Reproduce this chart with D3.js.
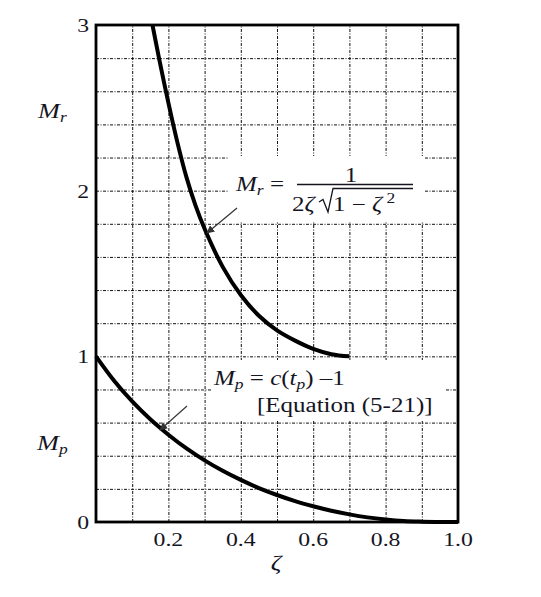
<!DOCTYPE html>
<html>
<head>
<meta charset="utf-8">
<script src="https://cdn.jsdelivr.net/npm/d3@7"></script>
<style>
  body { margin: 0; background: #fff; }
  text { font-family: "Liberation Serif", "Times New Roman", serif; fill: #15151f; }
  .grid line { stroke: #111; stroke-width: 1; stroke-dasharray: 3,1.5,1,1.5; }
  .grid path { display: none; }
</style>
</head>
<body>
<div class="chart"></div>
<script>
// values
var zetaMr = [0.156, 0.175, 0.2, 0.225, 0.25, 0.275, 0.3, 0.35, 0.4, 0.45, 0.5, 0.55, 0.6, 0.65, 0.7];
var mrValues = [3.0, 2.79, 2.53, 2.29, 2.08, 1.91, 1.77, 1.54, 1.37, 1.245, 1.157, 1.095, 1.045, 1.013, 1.0];

var zetaMp = [0, 0.05, 0.1, 0.15, 0.2, 0.25, 0.3, 0.35, 0.4, 0.45, 0.5, 0.55, 0.6, 0.65, 0.7, 0.75, 0.8, 0.85, 0.9, 0.95, 1.0];
var mpValues = [1.0, 0.853, 0.728, 0.62, 0.527, 0.444, 0.372, 0.309, 0.254, 0.205, 0.163, 0.126, 0.095, 0.068, 0.046, 0.028, 0.015, 0.006, 0.002, 0.0, 0.0];

var xTicks = [0.2, 0.4, 0.6, 0.8, 1.0];
var xTickLabels = ['0.2', '0.4', '0.6', '0.8', '1.0'];
var yTicks = [0, 1, 2, 3];
var yTickLabels = ['0', '1', '2', '3'];
var xGrid = [0.1, 0.2, 0.3, 0.4, 0.5, 0.6, 0.7, 0.8, 0.9];
var yGrid = [0.2, 0.4, 0.6, 0.8, 1.0, 1.2, 1.4, 1.6, 1.8, 2.0, 2.2, 2.4, 2.6, 2.8];

var W = 541, H = 597;
var margin = { top: 25, right: 83, bottom: 75, left: 96 };
var width = W - margin.left - margin.right;
var height = H - margin.top - margin.bottom;
var sx = 1.25; // the original type is drawn a little wide

var svg = d3.select('.chart')
  .append('svg')
    .attr('width', W)
    .attr('height', H);

var x = d3.scaleLinear().domain([0, 1]).range([margin.left, margin.left + width]);
var y = d3.scaleLinear().domain([0, 3]).range([margin.top + height, margin.top]);

svg.append('defs').append('marker')
  .attr('id', 'head')
  .attr('viewBox', '0 0 10 10')
  .attr('refX', 9).attr('refY', 5)
  .attr('markerWidth', 8).attr('markerHeight', 8)
  .attr('markerUnits', 'userSpaceOnUse')
  .attr('orient', 'auto')
  .append('path')
    .attr('d', 'M0,0 L10,5 L0,10 z')
    .attr('fill', '#333');

// dotted grid
svg.append('g')
  .attr('class', 'grid')
  .attr('transform', `translate(0, ${margin.top + height})`)
  .call(d3.axisBottom(x).tickValues(xGrid).tickSize(-height).tickFormat(''));

svg.append('g')
  .attr('class', 'grid')
  .attr('transform', `translate(${margin.left}, 0)`)
  .call(d3.axisLeft(y).tickValues(yGrid).tickSize(-width).tickFormat(''));

// white patches behind the formulas
svg.append('rect').attr('x', 229).attr('y', 156).attr('width', 195).attr('height', 65).attr('fill', '#fff');
svg.append('rect').attr('x', 211).attr('y', 360).attr('width', 235).attr('height', 61).attr('fill', '#fff');

// frame
svg.append('rect')
  .attr('x', margin.left).attr('y', margin.top)
  .attr('width', width).attr('height', height)
  .attr('fill', 'none')
  .attr('stroke', '#000')
  .attr('stroke-width', 2.8);

var line = d3.line()
  .x(d => x(d[0]))
  .y(d => y(d[1]))
  .curve(d3.curveCatmullRom.alpha(0.5));

svg.append('path')
  .attr('d', line(d3.zip(zetaMr, mrValues)))
  .attr('fill', 'none').attr('stroke', '#000').attr('stroke-width', 4);

svg.append('path')
  .attr('d', line(d3.zip(zetaMp, mpValues)))
  .attr('fill', 'none').attr('stroke', '#000').attr('stroke-width', 4);

// small helper for stretched text
function label(px, py, size, anchor) {
  return svg.append('text')
    .attr('transform', `translate(${px}, ${py}) scale(${sx}, 1)`)
    .attr('font-size', size)
    .attr('text-anchor', anchor || 'start');
}

// tick labels
xTicks.forEach(function (t, i) {
  label(x(t), 546, 19, 'middle').text(xTickLabels[i]);
});
yTicks.forEach(function (t, i) {
  label(89, y(t) + 7, 19, 'end').text(yTickLabels[i]);
});

label(276, 570, 21, 'middle').attr('font-style', 'italic').text('ζ');

// axis names
var lr = label(38, 118, 21);
lr.append('tspan').attr('font-style', 'italic').text('M');
lr.append('tspan').attr('font-style', 'italic').attr('font-size', 14).attr('dy', 4).text('r');

var lp = label(37, 450, 21);
lp.append('tspan').attr('font-style', 'italic').text('M');
lp.append('tspan').attr('font-style', 'italic').attr('font-size', 14).attr('dy', 4).text('p');

// Mr formula
var fr = label(236, 191, 20);
fr.append('tspan').attr('font-style', 'italic').text('M');
fr.append('tspan').attr('font-style', 'italic').attr('font-size', 14).attr('dy', 4).text('r');
fr.append('tspan').attr('dy', -4).text(' =');

svg.append('line').attr('x1', 297).attr('x2', 413).attr('y1', 184.5).attr('y2', 184.5)
  .attr('stroke', '#15151f').attr('stroke-width', 1.3);
label(351, 182, 20, 'middle').text('1');

var den = label(292, 211, 20);
den.append('tspan').text('2');
den.append('tspan').attr('font-style', 'italic').text('ζ');

svg.append('path')
  .attr('d', 'M319,202 L323,199.5 L328,212 L333,188.5 L413,188.5')
  .attr('fill', 'none').attr('stroke', '#15151f').attr('stroke-width', 1.3);

var den2 = label(333, 211, 20);
den2.append('tspan').text('1 − ');
den2.append('tspan').attr('font-style', 'italic').text('ζ');
den2.append('tspan').attr('font-size', 14).attr('dy', -8).text(' 2');

// Mp formula
var fp = label(214, 385, 20);
fp.append('tspan').attr('font-style', 'italic').text('M');
fp.append('tspan').attr('font-style', 'italic').attr('font-size', 14).attr('dy', 4).text('p');
fp.append('tspan').attr('dy', -4).text(' = ');
fp.append('tspan').attr('font-style', 'italic').text('c');
fp.append('tspan').text('(');
fp.append('tspan').attr('font-style', 'italic').text('t');
fp.append('tspan').attr('font-style', 'italic').attr('font-size', 14).attr('dy', 4).text('p');
fp.append('tspan').attr('dy', -4).text(') –1');

label(257, 412, 20).text('[Equation (5-21)]');

// pointer arrows
svg.append('line')
  .attr('x1', 237).attr('y1', 208).attr('x2', 207).attr('y2', 233)
  .attr('stroke', '#333').attr('stroke-width', 1.2)
  .attr('marker-end', 'url(#head)');

svg.append('line')
  .attr('x1', 187).attr('y1', 406).attr('x2', 160).attr('y2', 430)
  .attr('stroke', '#333').attr('stroke-width', 1.2)
  .attr('marker-end', 'url(#head)');
</script>
</body>
</html>
